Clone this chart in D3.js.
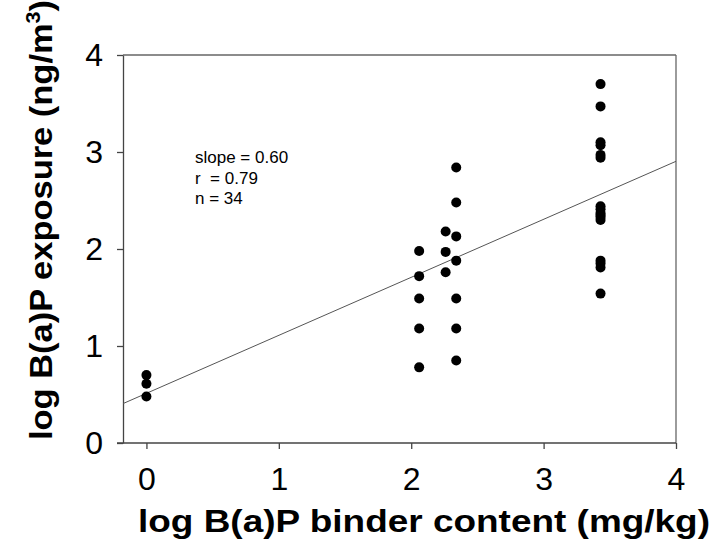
<!DOCTYPE html>
<html lang="en">
<head>
    <meta charset="UTF-8">
    <title>B(a)P exposure vs binder content</title>
    <script src="https://d3js.org/d3.v7.min.js"></script>
    <style>
        body { margin: 0; background: #fff; }
        svg text { font-family: "Liberation Sans", Arial, sans-serif; }
    </style>
</head>
<body>
    <svg id="chart"></svg>
    <script>
        // Data (log B(a)P binder content, log B(a)P exposure)
        var binderX = [
            0, 0, 0,
            2.06, 2.06, 2.06, 2.06, 2.06,
            2.26, 2.26, 2.26,
            2.34, 2.34, 2.34, 2.34, 2.34, 2.34, 2.34,
            3.43, 3.43, 3.43, 3.43, 3.43, 3.43, 3.43, 3.43,
            3.43, 3.43, 3.43, 3.43, 3.43, 3.43, 3.43, 3.43
        ];
        var exposureY = [
            0.70, 0.61, 0.48,
            1.98, 1.72, 1.49, 1.18, 0.78,
            2.18, 1.97, 1.76,
            2.84, 2.48, 2.13, 1.88, 1.49, 1.18, 0.85,
            3.70, 3.47, 3.10, 3.07, 2.97, 2.94, 2.44, 2.41,
            2.37, 2.35, 2.33, 2.30, 1.88, 1.85, 1.81, 1.54
        ];
        var xTicks = [0, 1, 2, 3, 4];
        var yTicks = [0, 1, 2, 3, 4];
        var fitSlope = 0.598, fitIntercept = 0.512;
        var statsLines = ["slope = 0.60", "r  = 0.79", "n = 34"];

        // plot box
        var W = 713, H = 548;
        var pLeft = 123, pRight = 676, pTop = 55, pBottom = 443;

        var svg = d3.select("#chart").attr("width", W).attr("height", H);

        var x = d3.scaleLinear().domain([-0.177, 4]).range([pLeft, pRight]);
        var y = d3.scaleLinear().domain([0, 4]).range([pBottom, pTop]);

        // frame (top + right)
        svg.append("line")
            .attr("x1", pLeft).attr("x2", pRight).attr("y1", pTop).attr("y2", pTop)
            .attr("stroke", "#666").attr("stroke-width", 1.3);
        svg.append("line")
            .attr("x1", pRight).attr("x2", pRight).attr("y1", pTop).attr("y2", pBottom)
            .attr("stroke", "#666").attr("stroke-width", 1.3);

        // axes
        var xAxis = svg.append("g")
            .attr("transform", "translate(0," + pBottom + ")")
            .call(d3.axisBottom(x).tickValues(xTicks).tickFormat(d3.format("d"))
                .tickSize(6).tickSizeOuter(0).tickPadding(18));
        var yAxis = svg.append("g")
            .attr("transform", "translate(" + pLeft + ",0)")
            .call(d3.axisLeft(y).tickValues(yTicks).tickFormat(d3.format("d"))
                .tickSize(6).tickSizeOuter(0).tickPadding(14));

        [xAxis, yAxis].forEach(function (g) {
            g.selectAll("path, line").attr("stroke", "#444").attr("stroke-width", 1.3);
            g.selectAll("text").attr("font-size", 32).attr("fill", "#000")
                .style("font-family", "'Liberation Sans', Arial, sans-serif");
        });
        xAxis.select("path").attr("d", "M" + (pLeft - 6) + ",0H" + pRight);

        // regression line
        var x0 = x.domain()[0], x1 = x.domain()[1];
        svg.append("line")
            .attr("x1", x(x0)).attr("y1", y(fitIntercept + fitSlope * x0))
            .attr("x2", x(x1)).attr("y2", y(fitIntercept + fitSlope * x1))
            .attr("stroke", "#555").attr("stroke-width", 1);

        // points
        svg.append("g").selectAll("circle")
            .data(binderX.map(function (d, i) { return [d, exposureY[i]]; }))
            .join("circle")
            .attr("cx", function (d) { return x(d[0]); })
            .attr("cy", function (d) { return y(d[1]); })
            .attr("r", 5)
            .attr("fill", "#000");

        // stats text
        svg.append("g").selectAll("text")
            .data(statsLines)
            .join("text")
            .attr("x", 195)
            .attr("y", function (d, i) { return 163 + i * 20.5; })
            .attr("font-size", 17)
            .style("white-space", "pre")
            .attr("xml:space", "preserve")
            .text(function (d) { return d; });

        // axis titles
        svg.append("text")
            .attr("x", 424)
            .attr("y", 532)
            .attr("text-anchor", "middle")
            .attr("font-size", 31)
            .attr("font-weight", "bold")
            .attr("textLength", 572)
            .attr("lengthAdjust", "spacingAndGlyphs")
            .text("log B(a)P binder content (mg/kg)");

        var yt = svg.append("text")
            .attr("transform", "translate(52," + 220 + ") rotate(-90)")
            .attr("text-anchor", "middle")
            .attr("font-size", 32)
            .attr("font-weight", "bold")
            .attr("textLength", 440)
            .attr("lengthAdjust", "spacingAndGlyphs");
        yt.append("tspan").text("log B(a)P exposure (ng/m");
        yt.append("tspan").attr("font-size", 20).attr("dy", -12).text("3");
        yt.append("tspan").attr("dy", 12).text(")");
    </script>
</body>
</html>
